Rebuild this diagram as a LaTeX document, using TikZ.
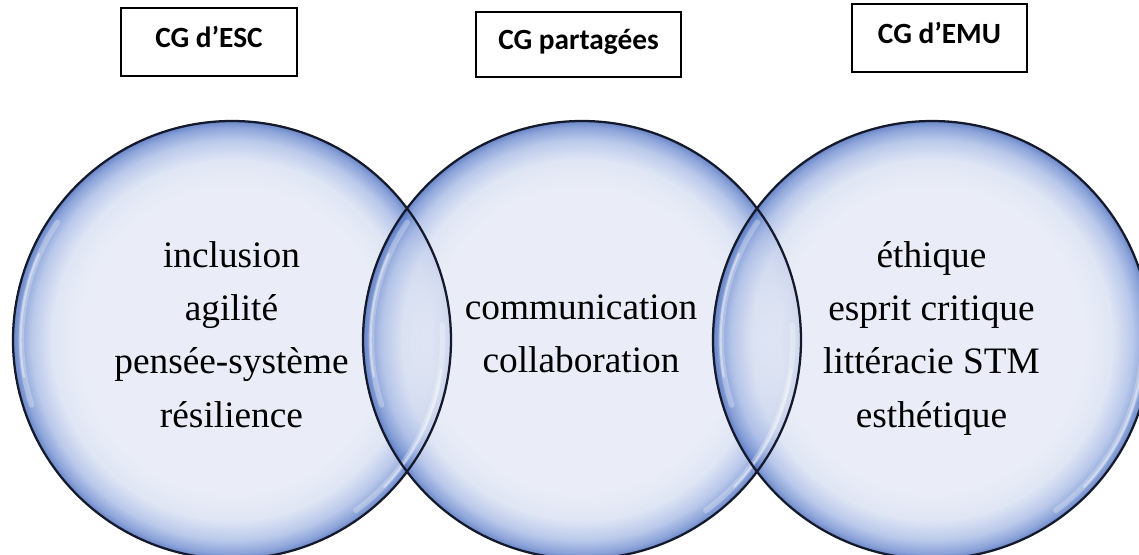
\documentclass[tikz,border=0pt]{standalone}
\usepackage{fontspec}
\setmainfont{Liberation Serif}
\newfontfamily\labelfont{Carlito}

% colours of the glassy bubbles
\definecolor{bubbleIn}{HTML}{E5E9F5}
\definecolor{bubbleA}{HTML}{D8E0F2}
\definecolor{bubbleB}{HTML}{AABCE6}
\definecolor{bubbleC}{HTML}{7390D1}
\definecolor{bubbleD}{HTML}{496BBB}
\definecolor{rimline}{HTML}{141A2C}

% the central 50bp square of a shading is fitted to the path, so the rim sits at 25bp
\pgfdeclareradialshading{bubble}{\pgfpoint{0bp}{0bp}}{%
  color(0bp)=(bubbleIn); color(17.5bp)=(bubbleIn); color(20.6bp)=(bubbleA);
  color(22.9bp)=(bubbleB); color(24.3bp)=(bubbleC); color(25bp)=(bubbleD);
  color(50bp)=(bubbleD)}

\tikzset{
  bubblefill/.style={shading=bubble, fill opacity=0.82},
  bubblerim/.style={draw=rimline, line width=1.7pt},
  gloss/.style={draw=white, line cap=round, line width=4pt, draw opacity=0.28},
  glosscore/.style={draw=white, line cap=round, line width=1.6pt, draw opacity=0.4},
  words/.style={align=center, font=\fontsize{28}{40}\selectfont, inner sep=0pt},
  cgbox/.style={draw=black, line width=1.5pt, fill=white, inner sep=0pt,
    text height=14.2pt, text depth=6pt,
    font=\labelfont\bfseries\fontsize{22}{26}\selectfont},
}

\begin{document}
\begin{tikzpicture}[x=0.75pt, y=-0.75pt]
  \useasboundingbox (0,0) rectangle (1139,554);
  \clip (0,0) rectangle (1139,554);

  \def\R{164.25pt}
  \coordinate (o1) at (232,340);
  \coordinate (o2) at (582,340);
  \coordinate (o3) at (932,340);

  % translucent bubbles
  \foreach \o in {o1,o2,o3}
    \shade[bubblefill] (\o) circle[radius=\R];

  % soft reflections along the inner rim
  \foreach \o in {o1,o2,o3} {
    \draw[gloss] ([shift={(146:158pt)}]\o) arc[start angle=146, end angle=198, radius=158pt];
    \draw[glosscore] ([shift={(156:158.5pt)}]\o) arc[start angle=156, end angle=190, radius=158.5pt];
    \draw[gloss] ([shift={(-54:158pt)}]\o) arc[start angle=-54, end angle=4, radius=158pt];
    \draw[glosscore] ([shift={(-44:158.5pt)}]\o) arc[start angle=-44, end angle=-8, radius=158.5pt];
  }

  % outlines on top of every fill
  \foreach \o in {o1,o2,o3}
    \draw[bubblerim] (\o) circle[radius=\R];

  % contents of each bubble
  \node[words] (esc) at (231.5,334.5) {inclusion\\agilité\\pensée-système\\résilience};
  \node[words] (shared) at (581,334) {communication\\collaboration};
  \node[words] (emu) at (931.5,338.3) {éthique\\esprit critique\\littéracie STM\\esthétique};

  % headings
  \node[cgbox, minimum width=132pt, minimum height=51pt] (hesc) at (209,42) {CG d’ESC};
  \node[cgbox, minimum width=153.75pt, minimum height=48.75pt] (hshared) at (578.5,44.5) {CG partagées};
  \node[cgbox, minimum width=131.25pt, minimum height=51pt] (hemu) at (939.5,38) {CG d’EMU};
\end{tikzpicture}
\end{document}
